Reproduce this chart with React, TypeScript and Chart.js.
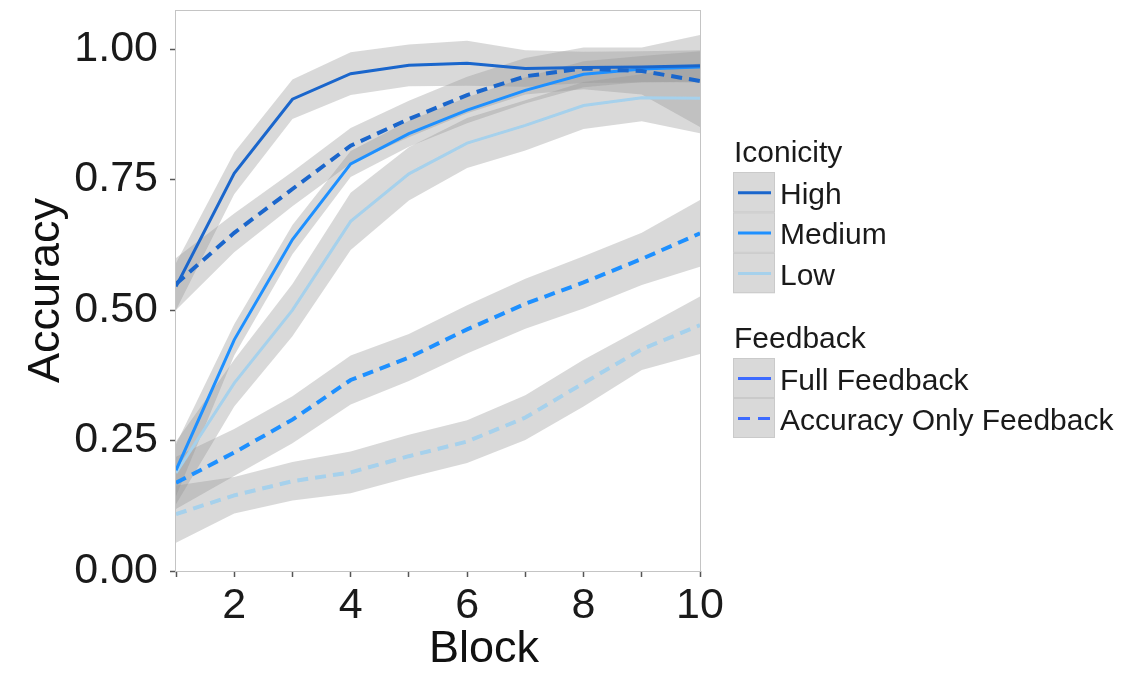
import React, { useEffect, useRef } from 'react';
import { Chart, registerables } from 'chart.js';

Chart.register(...registerables);

// ---- data ----
const blocks = [1, 2, 3, 4, 5, 6, 7, 8, 9, 10];
const yTicks = [0, 0.25, 0.5, 0.75, 1.0];
const xTicks = [1, 2, 3, 4, 5, 6, 7, 8, 9, 10];

const highFull = [0.545, 0.762, 0.904, 0.953, 0.969, 0.973, 0.963, 0.965, 0.966, 0.968];
const highFullSE = [0.045, 0.04, 0.038, 0.041, 0.04, 0.043, 0.035, 0.03, 0.03, 0.03];
const highAcc = [0.55, 0.648, 0.732, 0.815, 0.866, 0.912, 0.948, 0.963, 0.958, 0.939];
const highAccSE = [0.05, 0.037, 0.033, 0.034, 0.035, 0.035, 0.035, 0.04, 0.045, 0.088];
const medFull = [0.193, 0.443, 0.635, 0.78, 0.838, 0.883, 0.921, 0.952, 0.962, 0.966];
const medFullSE = [0.05, 0.03, 0.028, 0.025, 0.025, 0.025, 0.025, 0.025, 0.025, 0.03];
const lowFull = [0.188, 0.36, 0.5, 0.67, 0.761, 0.82, 0.854, 0.892, 0.907, 0.906];
const lowFullSE = [0.06, 0.045, 0.05, 0.055, 0.051, 0.048, 0.048, 0.045, 0.045, 0.067];
const medAcc = [0.169, 0.227, 0.29, 0.366, 0.409, 0.463, 0.512, 0.553, 0.598, 0.647];
const medAccSE = [0.05, 0.045, 0.045, 0.047, 0.045, 0.046, 0.048, 0.05, 0.05, 0.064];
const lowAcc = [0.109, 0.145, 0.172, 0.189, 0.22, 0.248, 0.294, 0.36, 0.425, 0.471];
const lowAccSE = [0.055, 0.035, 0.037, 0.04, 0.041, 0.041, 0.043, 0.045, 0.04, 0.055];

const iconicityLabels = ['High', 'Medium', 'Low'];
const feedbackLabels = ['Full Feedback', 'Accuracy Only Feedback'];
const xTitle = 'Block';
const yTitle = 'Accuracy';

// ---- styles ----
const FONT = "'Liberation Sans', Arial, Helvetica, sans-serif";
const HIGH = '#1a66cc';
const MED = '#1e90ff';
const LOW = '#a6d1ec';
const FEEDBACK_KEY = '#3d6bff';
const BAND = 'rgba(150,150,150,0.36)';
const DASH = [11, 7];

const series = [
  { label: 'Low Accuracy Only', values: lowAcc, se: lowAccSE, color: LOW, dash: DASH },
  { label: 'Medium Accuracy Only', values: medAcc, se: medAccSE, color: MED, dash: DASH },
  { label: 'Low Full', values: lowFull, se: lowFullSE, color: LOW, dash: [] },
  { label: 'Medium Full', values: medFull, se: medFullSE, color: MED, dash: [] },
  { label: 'High Accuracy Only', values: highAcc, se: highAccSE, color: HIGH, dash: DASH },
  { label: 'High Full', values: highFull, se: highFullSE, color: HIGH, dash: [] },
];

const pts = (vals: number[]) => blocks.map((b, i) => ({ x: b, y: vals[i] }));

const frameAndLegend = {
  id: 'frameAndLegend',
  afterDatasetsDraw(chart: any) {
    const { ctx, chartArea } = chart;
    ctx.save();
    ctx.strokeStyle = '#c4c4c4';
    ctx.lineWidth = 1;
    ctx.strokeRect(chartArea.left - 0.5, chartArea.top + 0.5, chartArea.right - chartArea.left + 1, chartArea.bottom - chartArea.top);
    ctx.restore();
  },
  afterDraw(chart: any) {
    const ctx = chart.ctx as CanvasRenderingContext2D;
    ctx.save();
    // x axis title (offset to the right as in the reference)
    ctx.font = `45px ${FONT}`;
    ctx.fillStyle = '#111';
    ctx.textAlign = 'center';
    ctx.textBaseline = 'alphabetic';
    ctx.fillText(xTitle, 484, 662);

    ctx.font = `30px ${FONT}`;
    ctx.fillStyle = '#1a1a1a';
    ctx.textAlign = 'left';
    const keyX = 733;
    const keyW = 42;
    // Iconicity
    ctx.fillText('Iconicity', 734, 162);
    const iconColors = [HIGH, MED, LOW];
    const rowH1 = 40.4;
    iconicityLabels.forEach((lab, i) => {
      const top = 172 + i * rowH1;
      ctx.fillStyle = '#d9d9d9';
      ctx.fillRect(keyX, top, keyW, rowH1);
      ctx.strokeStyle = '#cacaca';
      ctx.lineWidth = 1;
      ctx.strokeRect(keyX + 0.5, top + 0.5, keyW - 1, rowH1 - 1);
      ctx.strokeStyle = iconColors[i];
      ctx.lineWidth = 3;
      ctx.setLineDash([]);
      ctx.beginPath();
      ctx.moveTo(738, top + rowH1 / 2 + 0.5);
      ctx.lineTo(771, top + rowH1 / 2 + 0.5);
      ctx.stroke();
      ctx.fillStyle = '#1a1a1a';
      ctx.fillText(lab, 780, top + rowH1 / 2 + 11.5);
    });
    // Feedback
    ctx.fillText('Feedback', 734, 348);
    const rowH2 = 40;
    feedbackLabels.forEach((lab, i) => {
      const top = 358 + i * rowH2;
      ctx.fillStyle = '#d9d9d9';
      ctx.fillRect(keyX, top, keyW, rowH2);
      ctx.strokeStyle = '#cacaca';
      ctx.lineWidth = 1;
      ctx.setLineDash([]);
      ctx.strokeRect(keyX + 0.5, top + 0.5, keyW - 1, rowH2 - 1);
      ctx.strokeStyle = FEEDBACK_KEY;
      ctx.lineWidth = 3;
      ctx.setLineDash(i === 0 ? [] : [12, 8]);
      ctx.beginPath();
      ctx.moveTo(738, top + rowH2 / 2 + 0.5);
      ctx.lineTo(771, top + rowH2 / 2 + 0.5);
      ctx.stroke();
      ctx.setLineDash([]);
      ctx.fillStyle = '#1a1a1a';
      ctx.fillText(lab, 780, top + rowH2 / 2 + 11.5);
    });
    ctx.restore();
  },
};

export default function App() {
  const ref = useRef<HTMLCanvasElement | null>(null);

  useEffect(() => {
    if (!ref.current) return;
    const datasets: any[] = [];
    series.forEach((s) => {
      datasets.push({
        label: s.label + ' lower',
        data: pts(s.values.map((v, i) => v - s.se[i])),
        borderWidth: 0,
        pointRadius: 0,
        fill: false,
        order: 5,
      });
      datasets.push({
        label: s.label + ' upper',
        data: pts(s.values.map((v, i) => v + s.se[i])),
        borderWidth: 0,
        pointRadius: 0,
        fill: '-1',
        backgroundColor: BAND,
        order: 5,
      });
    });
    series.forEach((s, k) => {
      datasets.push({
        label: s.label,
        data: pts(s.values),
        borderColor: s.color,
        borderWidth: s.dash.length ? 4 : 3,
        borderDash: s.dash,
        borderCapStyle: 'butt',
        pointRadius: 0,
        fill: false,
        order: 4 - k * 0.1,
      });
    });

    const chart = new Chart(ref.current, {
      type: 'line',
      data: { datasets },
      plugins: [frameAndLegend],
      options: {
        animation: false,
        responsive: false,
        maintainAspectRatio: false,
        layout: { padding: { left: 0, top: 10, right: 448, bottom: 0 } },
        plugins: {
          legend: { display: false },
          tooltip: { enabled: false },
          filler: { drawTime: 'beforeDatasetsDraw' },
        } as any,
        elements: { point: { radius: 0 }, line: { tension: 0 } },
        scales: {
          x: {
            type: 'linear',
            min: 1,
            max: 10,
            afterBuildTicks: (s: any) => {
              s.ticks = xTicks.map((v) => ({ value: v }));
            },
            afterFit: (s: any) => {
              s.height = 103;
              s.paddingLeft = 0;
              s.paddingRight = 0;
            },
            ticks: {
              font: { family: FONT, size: 43 },
              color: '#1a1a1a',
              padding: 3,
              maxRotation: 0,
              autoSkip: false,
              callback: (v: any) => (Number(v) % 2 === 0 ? String(v) : ''),
            },
            grid: {
              drawOnChartArea: false,
              drawTicks: true,
              tickLength: 6,
              tickColor: '#555',
              tickWidth: 1.5,
            },
            border: { display: false },
            title: { display: false },
          },
          y: {
            type: 'linear',
            min: 0,
            max: 1.075,
            afterBuildTicks: (s: any) => {
              s.ticks = yTicks.map((v) => ({ value: v }));
            },
            afterFit: (s: any) => {
              s.width = 176;
              s.paddingTop = 0;
              s.paddingBottom = 0;
            },
            ticks: {
              font: { family: FONT, size: 43 },
              color: '#1a1a1a',
              padding: 12,
              callback: (v: any) => Number(v).toFixed(2),
            },
            grid: {
              drawOnChartArea: false,
              drawTicks: true,
              tickLength: 6,
              tickColor: '#555',
              tickWidth: 1.5,
            },
            border: { display: false },
            title: {
              display: true,
              text: yTitle,
              font: { family: FONT, size: 45 },
              color: '#111',
              padding: { top: 20, bottom: 0 },
            },
          },
        },
      },
    });
    return () => chart.destroy();
  }, []);

  return (
    <div style={{ position: 'absolute', left: 0, top: 0, width: 1148, height: 674, background: '#fff' }}>
      <canvas ref={ref} width={1148} height={674} style={{ display: 'block', width: 1148, height: 674 }} />
    </div>
  );
}
